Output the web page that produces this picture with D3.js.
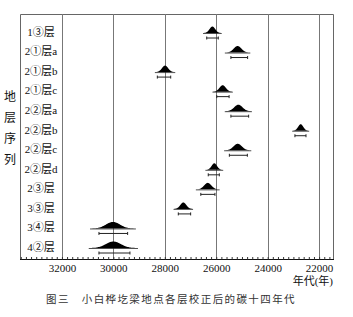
<!DOCTYPE html>
<html>
<head>
<meta charset="utf-8">
<script src="https://cdn.jsdelivr.net/npm/d3@7"></script>
<style>
  body { margin: 0; background: #fff; }
  svg { display: block; }
  text { font-family: "Liberation Serif", "DejaVu Serif", "Noto Sans CJK SC", serif; fill: #111; }
</style>
</head>
<body>
<div id="viz"></div>
<script>
// ====================
// DATA
// ====================
const layers = ['1③层', '2①层a', '2①层b', '2①层c', '2②层a', '2②层b',
  '2②层c', '2②层d', '2③层', '3③层', '3④层', '4②层'];
// peak of each calibrated distribution (cal BP)
const peaks = [26150, 25170, 27990, 25750, 25140, 22716, 25165, 26075, 26330, 27280, 30015, 30000];
// spread of each distribution (years)
const spreads = [110, 150, 120, 120, 160, 100, 160, 105, 140, 115, 270, 290];
// range bar below each distribution
const rangeLo = [26370, 25430, 28290, 25980, 25430, 22940, 25490, 26310, 26600, 27475, 30560, 30560];
const rangeHi = [25920, 24780, 27770, 25500, 24740, 22510, 24790, 25880, 26050, 26995, 29445, 29355];
const yearTicks = [32000, 30000, 28000, 26000, 24000, 22000];
const sideLabel = ['地', '层', '序', '列'];

// ====================
// SETUP
// ====================
const width = 353;
const height = 317;
const mLeft = 20, mRight = 333, mTop = 14, mBottom = 259;

const x = d3.scaleLinear().domain([33630, 21460]).range([mLeft, mRight]);
const y = d3.scalePoint().domain(layers).range([32, 247]);

const svg = d3.select('#viz').append('svg')
  .attr('width', width)
  .attr('height', height);

// frame
svg.append('path')
  .attr('d', `M${mLeft + 0.5},${mBottom}V${mTop + 0.5}H${mRight + 0.5}V${mBottom}`)
  .attr('fill', 'none')
  .attr('stroke', '#666')
  .attr('stroke-width', 1);

// grid lines
svg.selectAll('.grid')
  .data(yearTicks)
  .join('line')
  .attr('class', 'grid')
  .attr('x1', d => Math.round(x(d)) + 0.5)
  .attr('x2', d => Math.round(x(d)) + 0.5)
  .attr('y1', mTop)
  .attr('y2', mBottom)
  .attr('stroke', '#777');

// bottom axis with minor ticks pointing up
const axis = d3.axisBottom(x)
  .tickValues(d3.range(33600, 21400, -200))
  .tickSize(-2.5)
  .tickFormat(d => yearTicks.includes(d) ? d : '');
const gx = svg.append('g')
  .attr('transform', `translate(0,${mBottom + 0.5})`)
  .call(axis);
gx.select('.domain').attr('d', `M${mLeft},0H${mRight + 1}`).attr('stroke', '#111');
gx.selectAll('.tick line').attr('stroke', '#333');
gx.selectAll('.tick text')
  .attr('y', 5)
  .style('font-size', '11px')
  .style('font-family', '"Liberation Serif", serif');

svg.append('text')
  .attr('x', mRight)
  .attr('y', 285)
  .attr('text-anchor', 'end')
  .style('font-size', '11px')
  .text('年代(年)');

// layer labels
svg.selectAll('.layer')
  .data(layers)
  .join('text')
  .attr('class', 'layer')
  .attr('x', 41)
  .attr('y', d => y(d))
  .attr('dy', '0.35em')
  .attr('text-anchor', 'middle')
  .style('font-size', '11px')
  .text(d => d);

svg.selectAll('.side')
  .data(sideLabel)
  .join('text')
  .attr('class', 'side')
  .attr('x', 10)
  .attr('y', (d, i) => 97 + i * 21)
  .attr('dy', '0.35em')
  .attr('text-anchor', 'middle')
  .style('font-size', '12px')
  .text(d => d);

// ====================
// DISTRIBUTIONS
// ====================
const humpH = 6.5;
const marks = svg.selectAll('.dist')
  .data(layers.map((l, i) => ({ layer: l, peak: peaks[i], s: spreads[i], lo: rangeLo[i], hi: rangeHi[i] })))
  .join('g')
  .attr('class', 'dist')
  .attr('transform', d => `translate(0,${y(d.layer) + 1})`);

const area = d3.area()
  .x(p => x(p[0]))
  .y0(0)
  .y1(p => -p[1]);

marks.append('path')
  .attr('d', d => {
    const pts = d3.range(-3, 3.01, 0.1).map(z => [d.peak + z * d.s, humpH * Math.exp(-0.5 * z * z)]);
    return area(pts);
  })
  .attr('fill', '#000');

// baseline under each hump
marks.append('line')
  .attr('x1', d => x(d.peak + 3.3 * d.s))
  .attr('x2', d => x(d.peak - 3.3 * d.s))
  .attr('y1', 0.5)
  .attr('y2', 0.5)
  .attr('stroke', '#222')
  .attr('stroke-width', 0.8);

// range bars
marks.append('path')
  .attr('d', d => `M${x(d.lo)},3.5V6.5M${x(d.lo)},5H${x(d.hi)}M${x(d.hi)},3.5V6.5`)
  .attr('fill', 'none')
  .attr('stroke', '#222')
  .attr('stroke-width', 1);

// caption
svg.append('text')
  .attr('x', 171)
  .attr('y', 303)
  .attr('text-anchor', 'middle')
  .style('font-size', '10.5px')
  .style('letter-spacing', '1.4px')
  .style('fill', '#333')
  .style('font-family', '"Noto Sans CJK SC", sans-serif')
  .text('图三　小白桦圪梁地点各层校正后的碳十四年代');
</script>
</body>
</html>
